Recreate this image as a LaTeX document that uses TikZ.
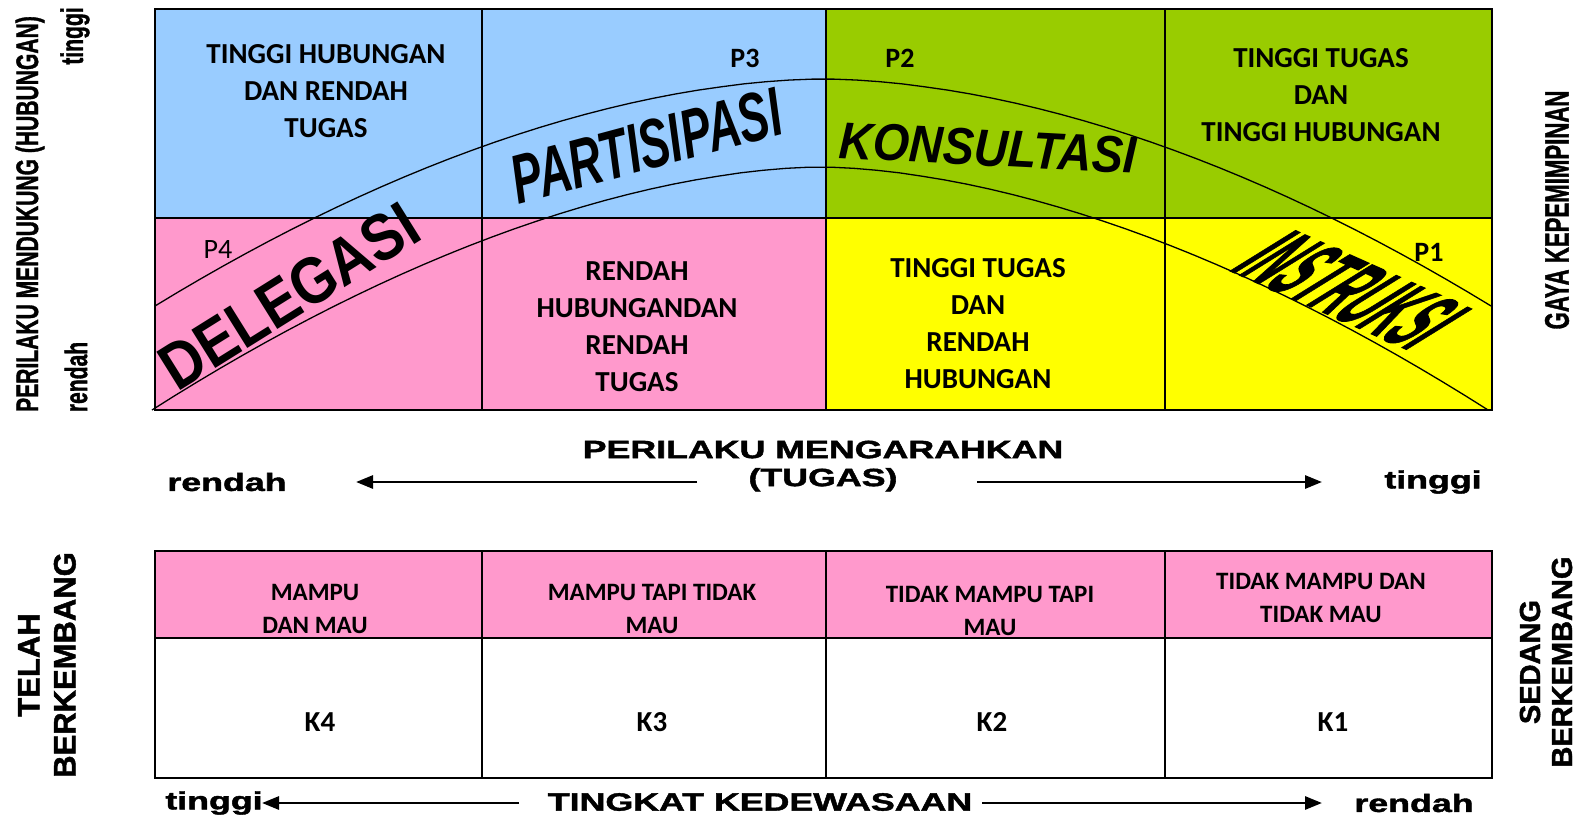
\documentclass[tikz,border=0pt]{standalone}
\usepackage{fontspec}
\setmainfont{Carlito}
\newfontfamily\arialfont{Liberation Sans}
\newfontfamily\heavyfont{Liberation Sans}[UprightFont={* Bold},ItalicFont={* Bold Italic},FakeBold=1.5]
\usepackage{tikz}
\usetikzlibrary{arrows.meta}
\definecolor{celblue}{RGB}{153,204,255}
\definecolor{celgreen}{RGB}{153,204,0}
\definecolor{celpink}{RGB}{255,153,204}
\definecolor{celyellow}{RGB}{255,255,0}

\begin{document}
\begin{tikzpicture}[x=1pt,y=-1pt,
  cell/.style={align=center,font=\bfseries\fontsize{29}{37}\selectfont},
  mcell/.style={align=center,font=\bfseries\fontsize{25}{33}\selectfont},
  plab/.style={font=\bfseries\fontsize{28}{30}\selectfont},
  word/.style={font=\arialfont\bfseries\fontsize{#1}{#1}\selectfont,inner sep=0pt},
  wide/.style={font=\heavyfont\fontsize{25}{28}\selectfont,xscale=1.43,align=center},
  narrow/.style={font=\heavyfont\fontsize{31}{31}\selectfont,rotate=90,xscale=0.68},
  side/.style={font=\heavyfont\fontsize{#1}{36}\selectfont,rotate=90,align=center},
  axarrow/.style={line width=2.8pt,-{Triangle[length=17pt,width=13pt]}}]
  \useasboundingbox (0,0) rectangle (1580,816);
  \fill[celblue] (155,9) rectangle (826,218);
  \fill[celgreen] (826,9) rectangle (1492,218);
  \fill[celpink] (155,218) rectangle (826,410);
  \fill[celyellow] (826,218) rectangle (1492,410);
   \draw [domain=155:1491,samples=60][line width=1.3pt] plot(\x,{79+227*abs((\x-823)/668)^1.8});
   \draw [domain=152:1488,samples=60][line width=1.3pt] plot(\x,{167+243*abs((\x-820)/668)^1.75});
  \draw[line width=2pt] (155,9) rectangle (1492,410);
  \draw[line width=2pt] (155,218) -- (1492,218);
  \foreach \x in {482,826,1165} \draw[line width=1.3pt] (\x,9) -- (\x,410);

  \fill[celpink] (155,551) rectangle (1492,638);
  \draw[line width=2pt] (155,551) rectangle (1492,778);
  \draw[line width=1.5pt] (155,638) -- (1492,638);
  \foreach \x in {482,826,1165} \draw[line width=1.3pt] (\x,551) -- (\x,778);

  \node[cell] (hubtinggi) at (326,91) {TINGGI HUBUNGAN\\DAN RENDAH\\TUGAS};
  \node[cell] (tugastinggi) at (1321,95) {TINGGI TUGAS\\DAN\\TINGGI HUBUNGAN};
  \node[cell] (rendahhub) at (637,327) {RENDAH\\HUBUNGANDAN\\RENDAH\\TUGAS};
  \node[cell] (rendahtugas) at (978,324) {TINGGI TUGAS\\DAN\\RENDAH\\HUBUNGAN};
  \node[plab] (p3) at (745,58) {P3};
  \node[plab] (p2) at (900,58) {P2};
  \node[plab] (p1) at (1429,252) {P1};
  \node[plab,font=\fontsize{28}{30}\selectfont] (p4) at (218,250) {P4};

  \node[word=57,rotate=32,yscale=1.15] (delegasi) at (289,296) {DELEGASI};
  \node[word=64,rotate=15,xscale=0.71,yscale=1.08] (partisipasi) at (646,146) {\itshape PARTISIPASI};
  \node[word=52,rotate=-3,xscale=0.9] (konsultasi) at (988,148) {\itshape KONSULTASI};
  \node[word=90,rotate=-24,xslant=0.68,xscale=0.4,font=\heavyfont\fontsize{92}{92}\selectfont] (instruksi) at (1351,290) {INSTRUKSI};

  \node[mcell] (mampu) at (315,609) {MAMPU\\DAN MAU};
  \node[mcell] (mamputapi) at (652,609) {MAMPU TAPI TIDAK\\MAU};
  \node[mcell] (tidakmampu) at (990,611) {TIDAK MAMPU TAPI\\MAU};
  \node[mcell] (tidakmau) at (1321,598) {TIDAK MAMPU DAN\\TIDAK MAU};
  \node[mcell,font=\bfseries\fontsize{29}{30}\selectfont] (k4) at (320,722) {K4};
  \node[mcell,font=\bfseries\fontsize{29}{30}\selectfont] (k3) at (652,722) {K3};
  \node[mcell,font=\bfseries\fontsize{29}{30}\selectfont] (k2) at (992,722) {K2};
  \node[mcell,font=\bfseries\fontsize{29}{30}\selectfont] (k1) at (1333,722) {K1};

  \node[wide] (mengarahkan) at (823,466) {PERILAKU MENGARAHKAN\\(TUGAS)};
  \node[wide] (rendahA) at (227,482) {rendah};
  \node[wide] (tinggiA) at (1433,482) {tinggi};
  \coordinate (arrA1) at (697,482);
  \coordinate (arrA2) at (356,482);
  \coordinate (arrA3) at (977,482);
  \coordinate (arrA4) at (1322,482);
  \draw[axarrow] (arrA1) -- (arrA2);
  \draw[axarrow] (arrA3) -- (arrA4);

  \node[wide] (tinggiB) at (214,803) {tinggi};
  \node[wide] (kedewasaan) at (760,802) {TINGKAT KEDEWASAAN};
  \node[wide] (rendahB) at (1414,803) {rendah};
  \coordinate (arrB1) at (519,803);
  \coordinate (arrB2) at (262,803);
  \coordinate (arrB3) at (982,803);
  \coordinate (arrB4) at (1322,803);
  \draw[axarrow] (arrB1) -- (arrB2);
  \draw[axarrow] (arrB3) -- (arrB4);

  \node[narrow] (mendukung) at (30,214) {PERILAKU MENDUKUNG (HUBUNGAN)};
  \node[narrow] (tinggiC) at (75,36) {tinggi};
  \node[narrow] (rendahC) at (76,377) {rendah};
  \node[narrow,font=\heavyfont\fontsize{34}{36}\selectfont,xscale=0.96] (gaya) at (1557,210) {GAYA KEPEMIMPINAN};
  \node[side=31] (telah) at (47,665) {TELAH\\BERKEMBANG};
  \node[side=29,font=\heavyfont\fontsize{29}{32}\selectfont] (sedang) at (1546,662) {SEDANG\\BERKEMBANG};

\end{tikzpicture}
\end{document}
